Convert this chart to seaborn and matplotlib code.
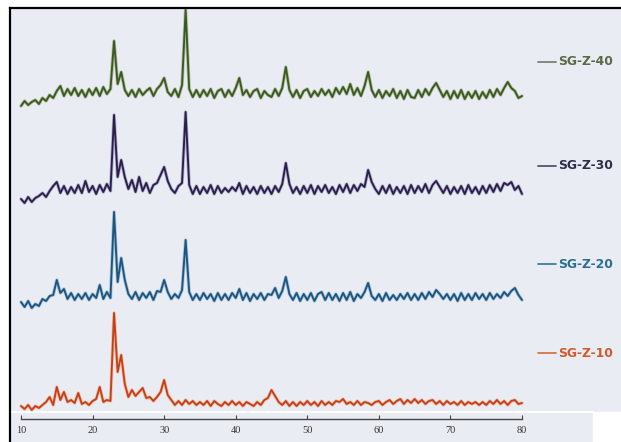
import numpy as np
import pandas as pd
import matplotlib
matplotlib.use("Agg")
import matplotlib.pyplot as plt
import matplotlib.patheffects as pe
import seaborn as sns

# 2-theta grid (degrees), 0.5 degree steps from 10 to 80
two_theta = [10.0 + 0.5 * i for i in range(141)]

sg_z_40 = [4, 9, 5, 8, 10, 6, 12, 9, 15, 12,
           19, 24, 14, 21, 15, 22, 14, 20, 13, 21,
           15, 22, 14, 23, 16, 21, 69, 26, 38, 20,
           14, 20, 13, 21, 15, 19, 22, 14, 21, 25,
           32, 18, 14, 21, 13, 25, 100, 21, 13, 20,
           13, 20, 14, 21, 12, 19, 21, 13, 20, 14,
           22, 32, 15, 20, 13, 19, 21, 12, 19, 15,
           13, 21, 14, 22, 43, 20, 13, 20, 12, 19,
           21, 13, 19, 14, 21, 15, 20, 13, 22, 16,
           23, 16, 26, 15, 22, 14, 24, 38, 20, 13,
           20, 12, 19, 14, 21, 12, 19, 11, 20, 13,
           12, 20, 13, 21, 15, 22, 27, 20, 13, 19,
           11, 19, 12, 20, 11, 18, 12, 19, 11, 18,
           12, 20, 13, 21, 15, 22, 28, 22, 19, 12,
           14]

sg_z_30 = [6, 2, 8, 3, 7, 9, 12, 8, 14, 19,
           23, 12, 19, 11, 18, 12, 20, 12, 24, 13,
           19, 11, 20, 13, 21, 14, 90, 28, 45, 28,
           16, 25, 13, 28, 14, 22, 12, 20, 22, 30,
           38, 24, 16, 12, 19, 22, 93, 20, 11, 19,
           11, 18, 12, 20, 11, 19, 12, 17, 13, 18,
           14, 22, 11, 19, 12, 18, 11, 19, 12, 18,
           11, 19, 13, 21, 42, 21, 12, 18, 11, 19,
           12, 20, 11, 19, 13, 20, 12, 18, 11, 20,
           13, 21, 12, 20, 14, 21, 18, 35, 23, 16,
           11, 19, 12, 20, 11, 18, 12, 19, 11, 20,
           12, 19, 13, 21, 12, 20, 24, 18, 12, 19,
           11, 18, 12, 19, 11, 20, 12, 18, 11, 19,
           12, 20, 13, 21, 14, 22, 20, 23, 15, 19,
           11]

sg_z_20 = [8, 3, 9, 2, 6, 4, 11, 9, 14, 15,
           30, 17, 21, 11, 17, 10, 16, 11, 17, 10,
           16, 12, 25, 11, 18, 12, 98, 28, 52, 30,
           16, 11, 18, 10, 17, 12, 18, 10, 19, 18,
           30, 18, 11, 16, 12, 20, 70, 18, 10, 16,
           10, 17, 11, 16, 9, 17, 10, 16, 10, 17,
           12, 21, 10, 17, 9, 16, 11, 17, 10, 16,
           15, 22, 12, 19, 33, 16, 10, 17, 9, 16,
           10, 17, 9, 16, 18, 10, 17, 10, 16, 9,
           17, 10, 18, 9, 16, 12, 18, 27, 14, 10,
           16, 9, 17, 10, 15, 10, 16, 11, 17, 10,
           16, 10, 17, 11, 18, 13, 20, 16, 11, 16,
           10, 16, 9, 17, 10, 16, 10, 17, 11, 16,
           10, 17, 11, 16, 12, 18, 14, 19, 22, 15,
           10]

sg_z_10 = [6, 3, 7, 2, 6, 4, 7, 10, 15, 7,
           25, 12, 20, 10, 12, 9, 19, 8, 10, 7,
           11, 13, 25, 10, 12, 11, 99, 40, 57, 28,
           15, 22, 16, 20, 24, 14, 15, 11, 15, 20,
           32, 17, 12, 7, 11, 7, 12, 8, 11, 7,
           10, 7, 11, 6, 11, 8, 6, 10, 7, 11,
           7, 10, 6, 10, 8, 6, 10, 7, 12, 14,
           22, 16, 10, 7, 11, 6, 10, 6, 10, 7,
           11, 7, 10, 6, 11, 7, 10, 7, 11, 10,
           13, 8, 10, 7, 11, 7, 10, 9, 7, 10,
           11, 7, 10, 12, 8, 11, 13, 8, 12, 9,
           13, 9, 12, 8, 11, 12, 8, 11, 7, 11,
           8, 10, 7, 11, 7, 10, 8, 10, 7, 10,
           7, 11, 8, 12, 8, 11, 7, 11, 12, 8,
           9]

samples = ["SG-Z-40", "SG-Z-30", "SG-Z-20", "SG-Z-10"]
offsets = [332, 237, 132, 30]
x_ticks = [10, 20, 30, 40, 50, 60, 70, 80]

line_colors = ["#3b5a1c", "#2a1e4e", "#1c5580", "#c63f1a"]
halo_colors = ["#8a9a78", "#8a84a8", "#7ea6c4", "#f0a070"]
label_colors = ["#566b46", "#2e2e48", "#2a6f8f", "#d05a2c"]
legend_line_colors = ["#7a8272", "#55556a", "#3a7f9c", "#d8734a"]
label_y = [0.876, 0.636, 0.410, 0.205]

frames = []
for name, vals, off in zip(samples, [sg_z_40, sg_z_30, sg_z_20, sg_z_10], offsets):
    frames.append(pd.DataFrame({"two_theta": two_theta,
                                "intensity": np.array(vals) + off,
                                "sample": name}))
df = pd.concat(frames, ignore_index=True)

sns.set_style("white")
bg = "#e9edf3"
fig = plt.figure(figsize=(6.21, 4.42), dpi=100, facecolor="white")
ax = fig.add_axes([10 / 621, 0, 611 / 621, 434 / 442])
ax.set_facecolor(bg)

for name, lc, hc in zip(samples, line_colors, halo_colors):
    sub = df[df["sample"] == name]
    sns.lineplot(data=sub, x="two_theta", y="intensity", ax=ax, color=lc,
                 linewidth=1.35, estimator=None, sort=False, legend=False,
                 path_effects=[pe.Stroke(linewidth=2.5, foreground=hc, alpha=0.55), pe.Normal()])

ax.set_xlim(8.463, 93.83)
ax.set_ylim(0, 434)

# decorative light band and white corner like the reference crop
ax.axhline(30, xmin=0, xmax=(593 - 10) / 611, color="white", linewidth=1.5, zorder=0.5)
ax.axhspan(0, 30, xmin=(593 - 10) / 611, xmax=1, color="white", zorder=0.5)

for name, lc, tc, ly in zip(samples, legend_line_colors, label_colors, label_y):
    ax.plot([0.864, 0.894], [ly, ly], transform=ax.transAxes, color=lc, linewidth=1.3)
    ax.text(0.897, ly, name, transform=ax.transAxes, color=tc, fontsize=8.9,
            fontweight="bold", family="DejaVu Sans", va="center", ha="left")

ax.spines["right"].set_visible(False)
ax.spines["top"].set_color("black")
ax.spines["top"].set_linewidth(1.6)
ax.spines["left"].set_color("black")
ax.spines["left"].set_linewidth(1.6)
ax.spines["bottom"].set_position(("data", 23))
ax.spines["bottom"].set_bounds(10, 80)
ax.spines["bottom"].set_color("#444444")
ax.spines["bottom"].set_linewidth(1.0)

ax.set_xticks(x_ticks)
ax.set_xticklabels([str(t) for t in x_ticks], family="Liberation Serif", fontsize=7.5, color="#333333")
ax.tick_params(axis="x", direction="in", length=3, width=0.8, color="#444444", pad=5, bottom=True)
ax.set_yticks([])
ax.set_xlabel("")
ax.set_ylabel("")

fig.savefig("out.png", dpi=100, facecolor="white")
